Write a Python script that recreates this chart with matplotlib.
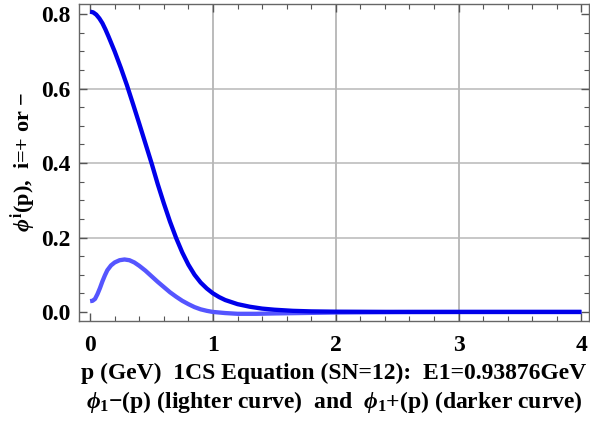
import matplotlib
matplotlib.use("Agg")
import matplotlib.pyplot as plt
from matplotlib.ticker import MultipleLocator

plt.rcParams['font.family'] = ['Liberation Serif', 'DejaVu Serif']
plt.rcParams['font.weight'] = 'bold'
plt.rcParams['mathtext.fontset'] = 'custom'
plt.rcParams['mathtext.rm'] = 'Liberation Serif:bold'
plt.rcParams['mathtext.it'] = 'Liberation Serif:italic:bold'
plt.rcParams['mathtext.bf'] = 'Liberation Serif:bold'

# phi_1+ (darker curve) versus momentum p in GeV
p_plus = [0.00, 0.025, 0.05, 0.075, 0.10, 0.125, 0.15, 0.20, 0.25, 0.30, 0.35,
          0.40, 0.45, 0.50, 0.55, 0.60, 0.65, 0.70, 0.75, 0.80, 0.85, 0.90,
          0.95, 1.00, 1.05, 1.10, 1.20, 1.30, 1.40, 1.50, 1.65, 1.80, 2.00,
          2.40, 3.00, 4.00]
phi_plus = [0.807, 0.805, 0.799, 0.789, 0.776, 0.759, 0.740, 0.700, 0.656,
            0.609, 0.558, 0.506, 0.453, 0.400, 0.344, 0.292, 0.243, 0.199,
            0.160, 0.127, 0.100, 0.079, 0.063, 0.050, 0.040, 0.032, 0.021,
            0.014, 0.009, 0.006, 0.003, 0.0015, 0.0007, 0.0002, 0.0, 0.0]

# phi_1- (lighter curve) versus momentum p in GeV
p_minus = [0.00, 0.02, 0.04, 0.06, 0.08, 0.10, 0.12, 0.14, 0.17, 0.20, 0.24,
           0.28, 0.32, 0.36, 0.40, 0.45, 0.50, 0.55, 0.60, 0.65, 0.70, 0.75,
           0.80, 0.85, 0.90, 0.95, 1.00, 1.10, 1.20, 1.35, 1.50, 1.70, 2.00,
           2.50, 3.00, 4.00]
phi_minus = [0.029, 0.030, 0.035, 0.048, 0.064, 0.082, 0.098, 0.112, 0.125,
             0.133, 0.139, 0.141, 0.139, 0.133, 0.124, 0.111, 0.096, 0.081,
             0.067, 0.053, 0.041, 0.030, 0.021, 0.013, 0.007, 0.003, 0.000,
             -0.003, -0.005, -0.005, -0.004, -0.003, -0.0015, -0.0005, 0.0, 0.0]

x_ticks = [0, 1, 2, 3, 4]
y_ticks = [0.0, 0.2, 0.4, 0.6, 0.8]
y_tick_labels = ['0.0', '0.2', '0.4', '0.6', '0.8']

fig = plt.figure(figsize=(5.9, 4.25), dpi=100)
ax = fig.add_axes([0.134, 0.245, 0.864, 0.746])

ax.plot(p_minus, phi_minus, color='#5555ff', lw=3.1, solid_capstyle='butt',
        solid_joinstyle='round', zorder=3)
ax.plot(p_plus, phi_plus, color='#0000ea', lw=3.1, solid_capstyle='butt',
        solid_joinstyle='round', zorder=4)

ax.set_xlim(-0.09, 4.06)
ax.set_ylim(-0.024, 0.828)

# grid lines at interior major ticks only
for gx in [1, 2, 3]:
    ax.axvline(gx, color='#a8a8a8', lw=1.1, zorder=1)
for gy in [0.2, 0.4, 0.6]:
    ax.axhline(gy, color='#b8b8b8', lw=1.1, zorder=1)

ax.set_xticks(x_ticks)
ax.set_xticklabels([str(t) for t in x_ticks])
ax.set_yticks(y_ticks)
ax.set_yticklabels(y_tick_labels)
ax.xaxis.set_minor_locator(MultipleLocator(0.2))
ax.yaxis.set_minor_locator(MultipleLocator(0.05))

ax.tick_params(which='both', direction='in', top=True, right=True, color='#555555')
ax.tick_params(which='major', length=6, width=1.0, labelsize=17)
ax.tick_params(which='minor', length=3.5, width=0.8)
ax.tick_params(axis='x', which='major', pad=10)
ax.tick_params(axis='y', which='major', pad=6)

for s in ax.spines.values():
    s.set_color('#666666')
    s.set_linewidth(1.0)

ax.set_xlabel('p (GeV)  1CS Equation (SN=12):  E1=0.93876GeV\n'
              r'$\phi_1$' + '\u2212(p) (lighter curve)  and  ' + r'$\phi_1$' + '+(p) (darker curve)',
              fontsize=17, fontweight='bold', linespacing=1.25, labelpad=5)
ax.set_ylabel(r'$\phi^{\rm i}$' + '(p),  i=+ or \u2212', fontsize=16, fontweight='bold',
              labelpad=2)

fig.savefig('out.png', dpi=100)
